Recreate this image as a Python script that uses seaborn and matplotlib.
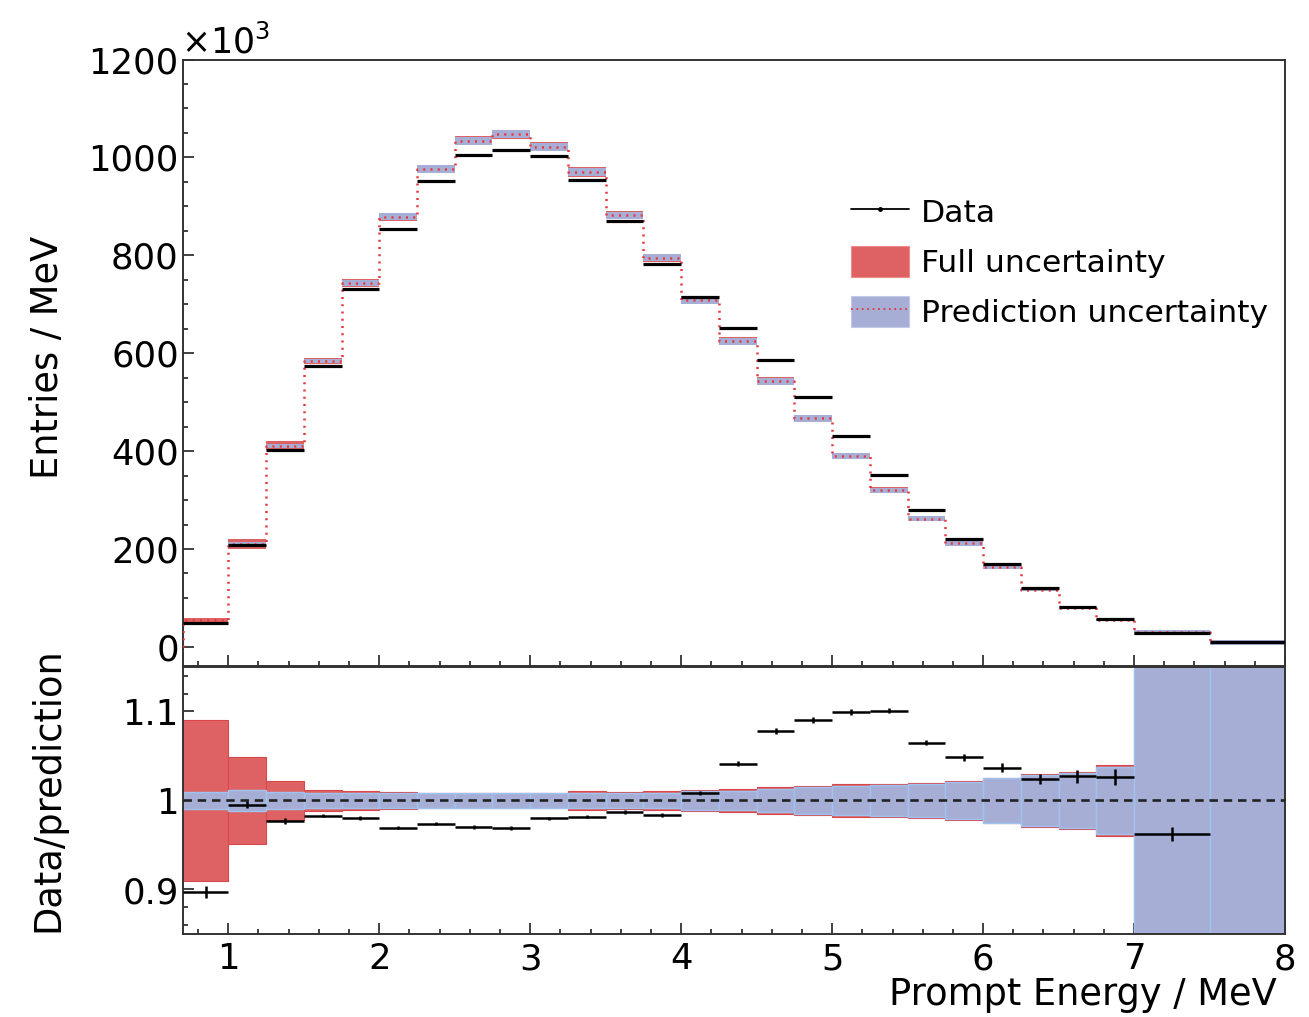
#!/usr/bin/env python3
"""
Prompt energy spectrum: data vs prediction with uncertainty bands, plus ratio panel.
Output: out.png
"""

import numpy as np
import matplotlib
matplotlib.use("Agg")
import matplotlib.pyplot as plt
import matplotlib.ticker as mticker
from matplotlib.lines import Line2D
from matplotlib.patches import Patch
import seaborn as sns

# ── data (entries in units of 10^3 / MeV) ──────────────────────────────────
bin_edges = [0.7, 1.0, 1.25, 1.5, 1.75, 2.0, 2.25, 2.5, 2.75, 3.0, 3.25, 3.5,
             3.75, 4.0, 4.25, 4.5, 4.75, 5.0, 5.25, 5.5, 5.75, 6.0, 6.25, 6.5,
             6.75, 7.0, 7.5, 8.0]
data_counts = [49, 209, 402, 574, 731, 853, 951, 1005, 1015, 1002, 953, 871,
               783, 714, 651, 587, 510, 430, 351, 279, 221, 169, 120, 82.5,
               56.5, 28.5, 9.5]
pred_counts = [54.5, 211, 411, 584, 744, 879, 976, 1034, 1047, 1022, 970, 882,
               795, 708, 624, 543, 467, 390, 320, 262, 211.5, 164, 117, 80.5,
               55, 29.5, 9.5]
ratio_vals = [0.897, 0.9955, 0.977, 0.983, 0.9805, 0.9695, 0.974, 0.970, 0.969,
              0.980, 0.982, 0.987, 0.9835, 1.0086, 1.0414, 1.078, 1.0906, 1.0993,
              1.1008, 1.065, 1.0485, 1.0368, 1.024, 1.027, 1.0267, 0.9624, np.nan]
ratio_errs = [0.007, 0.004, 0.003, 0.002, 0.002, 0.002, 0.002, 0.002, 0.002,
              0.002, 0.002, 0.002, 0.002, 0.002, 0.003, 0.003, 0.003, 0.003,
              0.003, 0.003, 0.004, 0.005, 0.006, 0.007, 0.009, 0.008, np.nan]
# relative uncertainties
pred_unc = [0.009, 0.012, 0.009, 0.0085, 0.0083, 0.0085, 0.008, 0.008, 0.008,
            0.008, 0.008, 0.008, 0.0085, 0.0105, 0.011, 0.013, 0.015, 0.0165,
            0.017, 0.0185, 0.021, 0.025, 0.0285, 0.0305, 0.0375, 0.19, 0.55]
full_unc = [0.091, 0.049, 0.022, 0.012, 0.0105, 0.009, 0.0085, 0.0085, 0.0085,
            0.0085, 0.0105, 0.009, 0.0105, 0.012, 0.013, 0.0147, 0.016, 0.018,
            0.018, 0.020, 0.022, 0.0256, 0.0303, 0.032, 0.040, 0.20, 0.57]

RED = '#de6264'
RED_EDGE = '#d9474a'
RED_LINE = '#e8373a'
BLUE = '#a7aed6'
BLUE_EDGE = '#9fc3ee'
FRAME = '#333333'

W, H = 1309, 1017

sns.set_theme(style="ticks")
plt.rcParams['font.family'] = ['DejaVu Sans']
plt.rcParams['mathtext.fontset'] = 'dejavusans'
plt.rcParams['axes.edgecolor'] = FRAME
plt.rcParams['axes.linewidth'] = 1.4
plt.rcParams['text.color'] = 'black'
plt.rcParams['axes.labelcolor'] = 'black'


def style_axis(ax):
    ax.tick_params(which='both', direction='in', top=False, right=False,
                   colors=FRAME, labelcolor='black', labelsize=25.5, width=1.3)
    ax.tick_params(which='major', length=8, pad=3)
    ax.tick_params(which='minor', length=3.5)
    ax.xaxis.set_major_locator(mticker.MultipleLocator(1))
    ax.xaxis.set_minor_locator(mticker.MultipleLocator(0.2))
    ax.set_xlim(bin_edges[0], bin_edges[-1])
    ax.grid(False)


def main():
    edges = np.array(bin_edges)
    lo, hi = edges[:-1], edges[1:]
    widths = np.diff(edges)
    centers = (lo + hi) / 2
    data = np.array(data_counts)
    pred = np.array(pred_counts)
    ratio = np.array(ratio_vals)
    rerr = np.array(ratio_errs)
    punc = np.array(pred_unc)
    func = np.array(full_unc)

    fig = plt.figure(figsize=(W / 100, H / 100), dpi=100)
    ax_top = fig.add_axes([183 / W, 1 - 666 / H, 1102 / W, (666 - 59.5) / H])
    ax_bot = fig.add_axes([183 / W, 1 - 934 / H, 1102 / W, (934 - 667) / H])

    # ── upper panel ──
    ax_top.bar(lo, 2 * func * pred, bottom=pred * (1 - func), width=widths,
               align='edge', color=RED, lw=0, zorder=1)
    ax_top.bar(lo, 2 * punc * pred, bottom=pred * (1 - punc), width=widths,
               align='edge', color=BLUE, lw=0, zorder=2)
    step_x = [edges[0]] + list(edges)
    step_y = [0] + list(pred) + [pred[-1]]
    sns.lineplot(x=step_x, y=step_y, estimator=None, sort=False,
                 drawstyle='steps-post', color=RED_LINE, lw=1.8,
                 linestyle=(0, (0.8, 2.1)), legend=False, ax=ax_top, zorder=3)
    ax_top.hlines(data, lo, hi, colors='black', lw=2.3, zorder=4)

    style_axis(ax_top)
    ax_top.set_ylim(-39, 1200)
    ax_top.yaxis.set_major_locator(mticker.MultipleLocator(200))
    ax_top.yaxis.set_minor_locator(mticker.MultipleLocator(50))
    ax_top.tick_params(labelbottom=False)
    ax_top.set_xlabel('')
    ax_top.set_ylabel('Entries / MeV', fontsize=26.5)
    ax_top.yaxis.set_label_coords(-0.106, 0.509)
    fig.text(181 / W, 1 - 53 / H, r'$\times10^{3}$', fontsize=25,
             va='baseline', ha='left')

    h_data = Line2D([], [], color='black', lw=1.3, marker='o', markersize=2.5)
    h_full = Patch(facecolor=RED, edgecolor='#ee8a8a', lw=0.8)
    h_pred = (Patch(facecolor=BLUE, edgecolor='#c3c9e8', lw=0.8),
              Line2D([], [], color=RED_LINE, lw=1.3, linestyle=(0, (1, 2))))
    ax_top.legend([h_data, h_full, h_pred],
                  ['Data', 'Full uncertainty', 'Prediction uncertainty'],
                  loc='upper left', bbox_to_anchor=(851 / W, 1 - 196 / H),
                  bbox_transform=fig.transFigure, frameon=False, fontsize=22.6,
                  handlelength=1.85, handleheight=1.15, handletextpad=0.38,
                  labelspacing=0.56, borderpad=0, borderaxespad=0)

    # ── ratio panel ──
    ax_bot.bar(lo, 2 * func, bottom=1 - func, width=widths, align='edge',
               color=RED, edgecolor=RED_EDGE, lw=0.8, zorder=1)
    ax_bot.bar(lo, 2 * punc, bottom=1 - punc, width=widths, align='edge',
               color=BLUE, edgecolor=BLUE_EDGE, lw=1.0, zorder=2)
    ax_bot.axhline(1.0, color='#222222', lw=1.9, linestyle=(0, (3.2, 2.2)),
                   zorder=3)
    ok = ~np.isnan(ratio)
    ax_bot.hlines(ratio[ok], lo[ok], hi[ok], colors='black', lw=1.8, zorder=4)
    ax_bot.vlines(centers[ok], ratio[ok] - rerr[ok], ratio[ok] + rerr[ok],
                  colors='black', lw=1.8, zorder=4)

    style_axis(ax_bot)
    ax_bot.set_ylim(0.85, 1.15)
    ax_bot.yaxis.set_major_locator(mticker.FixedLocator([0.9, 1.0, 1.1]))
    ax_bot.yaxis.set_major_formatter(mticker.FuncFormatter(lambda v, _: f'{v:g}'))
    ax_bot.yaxis.set_minor_locator(mticker.MultipleLocator(0.02))
    ax_bot.tick_params(axis='x', which='major', pad=6)
    ax_bot.set_ylabel('Data/prediction', fontsize=26.5)
    ax_bot.yaxis.set_label_coords(-0.106, 0.54)
    fig.text(1277 / W, 1 - 1005 / H, 'Prompt Energy / MeV', fontsize=26.5,
             ha='right', va='baseline')

    fig.savefig('out.png', dpi=100)
    plt.close(fig)


if __name__ == "__main__":
    main()
